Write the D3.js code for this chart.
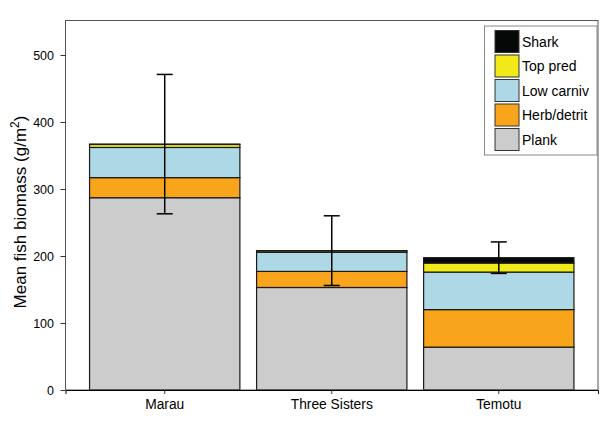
<!DOCTYPE html>
<html>
<head>
<meta charset="utf-8">
<script src="https://cdn.jsdelivr.net/npm/d3@7"></script>
<style>
  body { margin: 0; background: #fff; }
  svg text { font-family: "Liberation Sans", Arial, sans-serif; fill: #000; }
</style>
</head>
<body>
<div id="chart"></div>
<script>
// values
const sites = ["Marau", "Three Sisters", "Temotu"];
const groups = ["Plank", "Herb/detrit", "Low carniv", "Top pred", "Shark"];
const plank = [287, 153, 64];
const herb = [30, 24, 56];
const lowCarniv = [45, 28.5, 56];
const topPred = [4.5, 2.2, 13.5];
const shark = [0.5, 0.3, 8];
const errSE = [104, 52, 23.5];
const yTicks = [0, 100, 200, 300, 400, 500];

const colors = {
  "Plank": "#cccccc",
  "Herb/detrit": "#f9a51b",
  "Low carniv": "#add8e6",
  "Top pred": "#f2ea18",
  "Shark": "#060808"
};

const width = 608, height = 432;
const plot = { left: 65.5, right: 598, top: 20.5, bottom: 390 };

const rows = sites.map((s, i) => ({
  site: s,
  "Plank": plank[i],
  "Herb/detrit": herb[i],
  "Low carniv": lowCarniv[i],
  "Top pred": topPred[i],
  "Shark": shark[i]
}));

const stacked = d3.stack().keys(groups)(rows);

const x = d3.scaleBand()
  .domain(sites)
  .range([plot.left, plot.right])
  .paddingInner(0.1)
  .paddingOuter(0.144);

const y = d3.scaleLinear()
  .domain([0, 551.5])
  .range([plot.bottom, plot.top]);

const svg = d3.select("#chart")
  .append("svg")
  .attr("width", width)
  .attr("height", height);

// stacked bars
svg.selectAll(".layer")
  .data(stacked)
  .enter()
  .append("g")
  .attr("class", "layer")
  .attr("fill", d => colors[d.key])
  .selectAll("rect")
  .data(d => d)
  .enter()
  .append("rect")
  .attr("x", d => x(d.data.site))
  .attr("y", d => y(d[1]))
  .attr("width", x.bandwidth())
  .attr("height", d => y(d[0]) - y(d[1]))
  .attr("stroke", "#1a1a1a")
  .attr("stroke-width", 1.2);

// error bars
const totals = rows.map(r => d3.sum(groups, g => r[g]));
const eb = svg.append("g")
  .attr("stroke", "#000")
  .attr("stroke-width", 1.5);

sites.forEach((s, i) => {
  const cx = x(s) + x.bandwidth() / 2;
  const hi = y(totals[i] + errSE[i]);
  const lo = y(totals[i] - errSE[i]);
  eb.append("line").attr("x1", cx).attr("x2", cx).attr("y1", hi).attr("y2", lo);
  eb.append("line").attr("x1", cx - 8).attr("x2", cx + 8).attr("y1", hi).attr("y2", hi);
  eb.append("line").attr("x1", cx - 8).attr("x2", cx + 8).attr("y1", lo).attr("y2", lo);
});

// plot box
svg.append("rect")
  .attr("x", plot.left)
  .attr("y", plot.top)
  .attr("width", plot.right - plot.left)
  .attr("height", plot.bottom - plot.top)
  .attr("fill", "none")
  .attr("stroke", "#555")
  .attr("stroke-width", 1);

// y axis
const yAxis = svg.append("g")
  .attr("transform", `translate(${plot.left},0)`)
  .call(d3.axisLeft(y).tickValues(yTicks).tickSize(5).tickPadding(6.5));
yAxis.select(".domain").remove();
yAxis.selectAll("line").attr("stroke", "#333");
yAxis.selectAll("text").style("font-size", "12.5px").attr("fill", "#000");

// x axis
const xAxis = svg.append("g")
  .attr("transform", `translate(0,${plot.bottom})`)
  .call(d3.axisBottom(x).tickSize(4).tickPadding(5));
xAxis.select(".domain").attr("stroke", "#000");
xAxis.selectAll("line").attr("stroke", "#333");
xAxis.selectAll("text").style("font-size", "13.8px").attr("fill", "#000");

// y label
const yl = svg.append("text")
  .attr("transform", `translate(26,212) rotate(-90)`)
  .attr("text-anchor", "middle")
  .style("font-size", "17px");
yl.append("tspan").text("Mean fish biomass (g/m");
yl.append("tspan").attr("dy", -7).style("font-size", "12px").text("2");
yl.append("tspan").attr("dy", 7).text(")");

// legend
const legend = svg.append("g");
legend.append("rect")
  .attr("x", 484.5)
  .attr("y", 26)
  .attr("width", 112.5)
  .attr("height", 129)
  .attr("fill", "#fff")
  .attr("stroke", "#888")
  .attr("stroke-width", 1);

const legendOrder = groups.slice().reverse();
legendOrder.forEach((g, i) => {
  const ly = 30.5 + i * 24.5;
  legend.append("rect")
    .attr("x", 495)
    .attr("y", ly)
    .attr("width", 24)
    .attr("height", 22)
    .attr("fill", colors[g])
    .attr("stroke", "#333")
    .attr("stroke-width", 1);
  legend.append("text")
    .attr("x", 522)
    .attr("y", ly + 16)
    .style("font-size", "14px")
    .text(g);
});
</script>
</body>
</html>
